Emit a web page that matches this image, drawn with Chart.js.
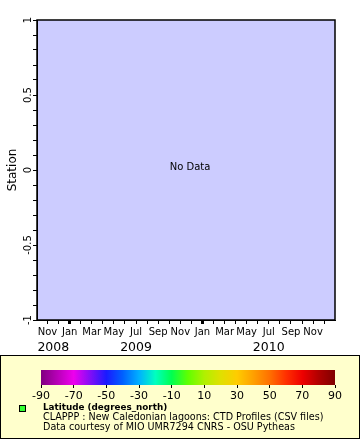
<!DOCTYPE html>
<html>
<head>
<meta charset="utf-8">
<script src="https://cdn.jsdelivr.net/npm/chart.js@4.4.1/dist/chart.umd.min.js"></script>
<style>
  body { margin: 0; background: #fff; font-family: "DejaVu Sans", sans-serif; }
  #wrap { position: relative; width: 360px; height: 440px; }
  #main { position: absolute; left: 0; top: 0; }
  #legend { position: absolute; left: 0; top: 355px; width: 358px; height: 82px; border: 1px solid #000; background: #ffffcc; }
  #cbar { position: absolute; left: 0; top: 355px; }
  .swatch { position: absolute; left: 19px; top: 405px; width: 5px; height: 5px; border: 1px solid #000; background: #33ff33; }
  .ltxt { position: absolute; left: 43px; font-size: 9.6px; line-height: 10px; color: #000; white-space: nowrap; }
</style>
</head>
<body>
<div id="wrap">
  <canvas id="main" width="360" height="354"></canvas>
  <div id="legend"></div>
  <canvas id="cbar" width="360" height="50"></canvas>
  <div class="swatch"></div>
  <div class="ltxt" style="top:402px;font-weight:bold;font-size:8.8px;">Latitude (degrees_north)</div>
  <div class="ltxt" style="top:412px;">CLAPPP : New Caledonian lagoons: CTD Profiles (CSV files)</div>
  <div class="ltxt" style="top:422px;">Data courtesy of MIO UMR7294 CNRS - OSU Pytheas</div>
</div>
<script>
// months counted from Jan 2008
const monthNames = ["Jan", "Feb", "Mar", "Apr", "May", "Jun", "Jul", "Aug", "Sep", "Oct", "Nov", "Dec"];
const years = [2008, 2009, 2010];
const timeRange = [9.05, 35.98];
const yRange = [-1, 1];
const yLabelled = [-1, -0.5, 0, 0.5, 1];
const stationPoints = []; // nothing to plot
const cbarTicks = [-90, -70, -50, -30, -10, 10, 30, 50, 70, 90];
const cbarStops = [-90, -70, -50, -40, -30, -20, -10, 0, 10, 20, 30, 40, 50, 60, 70, 80, 90];
const cbarColors = ["#800080", "#ee00ee", "#1a1aff", "#0060ff", "#00b0ff", "#00ffc0", "#00ff50", "#60ff00",
                    "#b0f000", "#e0e000", "#ffcc00", "#ffa000", "#ff7000", "#ff3000", "#ee0000", "#b00000", "#800000"];

const font = { family: "DejaVu Sans", size: 10 };

const frame = {
  id: "frame",
  beforeDraw(chart) {
    const { ctx, chartArea: a } = chart;
    ctx.save();
    ctx.fillStyle = "#ccccff";
    ctx.fillRect(a.left, a.top, a.right - a.left, a.bottom - a.top);
    ctx.restore();
  },
  afterDraw(chart) {
    const { ctx, chartArea: a } = chart;
    ctx.save();
    ctx.strokeStyle = "#000";
    ctx.lineWidth = 1.5;
    ctx.strokeRect(a.left, a.top, a.right - a.left, a.bottom - a.top);
    ctx.fillStyle = "#000";
    ctx.font = "10px 'DejaVu Sans'";
    ctx.textAlign = "center";
    ctx.textBaseline = "middle";
    const cx = chart.scales.x.getPixelForValue((timeRange[0] + timeRange[1]) / 2);
    const cy = chart.scales.y.getPixelForValue(0);
    ctx.fillText("No Data", cx + 4, cy - 3);
    ctx.restore();
  }
};

const monthTicks = [];
for (let m = Math.ceil(timeRange[0]); m <= Math.floor(timeRange[1]); m++) monthTicks.push(m);
const yearMids = years.map((y, i) => {
  const s = Math.max(timeRange[0], i * 12), e = Math.min(timeRange[1], i * 12 + 12);
  return (s + e) / 2;
});

new Chart(document.getElementById("main"), {
  type: "scatter",
  data: { datasets: [{ data: stationPoints, pointRadius: 3, backgroundColor: "#33ff33" }] },
  options: {
    responsive: false,
    animation: false,
    layout: { padding: { top: 20, right: 25, left: 0, bottom: 0 } },
    plugins: { legend: { display: false }, tooltip: { enabled: false } },
    scales: {
      x: {
        type: "linear", min: timeRange[0], max: timeRange[1],
        afterBuildTicks: (s) => { s.ticks = monthTicks.map((v) => ({ value: v })); },
        afterFit: (s) => { s.height = 18; },
        ticks: {
          autoSkip: false, maxRotation: 0, minRotation: 0, padding: 2, color: "#000", font,
          callback: (v) => { const m = ((v % 12) + 12) % 12; return m % 2 === 0 ? monthNames[m] : ""; }
        },
        grid: { drawOnChartArea: false, tickLength: 4, tickColor: "#000",
                tickWidth: (c) => (c.tick && c.tick.value % 12 === 0 ? 3 : 1) },
        border: { color: "#000" }
      },
      x2: {
        type: "linear", position: "bottom", weight: 1, min: timeRange[0], max: timeRange[1],
        afterBuildTicks: (s) => { s.ticks = yearMids.map((v) => ({ value: v })); },
        afterFit: (s) => { s.height = 16; },
        ticks: { autoSkip: false, maxRotation: 0, padding: 2, color: "#000",
                 font: { family: "DejaVu Sans", size: 12.5 },
                 callback: (v, i) => String(years[i]) },
        grid: { display: false, drawTicks: false },
        border: { display: false }
      },
      y: {
        type: "linear", min: yRange[0], max: yRange[1],
        afterFit: (s) => { s.width = 37; },
        ticks: {
          stepSize: 0.1, autoSkip: false, minRotation: 90, maxRotation: 90, crossAlign: "center",
          padding: -5, color: "#000", font,
          callback: (v) => (yLabelled.some((t) => Math.abs(t - v) < 1e-6) ? String(Math.round(v * 10) / 10) : "")
        },
        grid: { drawOnChartArea: false, tickLength: 4, tickColor: "#000" },
        border: { color: "#000" },
        title: { display: true, text: "Station", color: "#000", padding: { top: 6, bottom: 0 },
                 font: { family: "DejaVu Sans", size: 12 } }
      }
    }
  },
  plugins: [frame]
});

const gradientBar = {
  id: "gradientBar",
  beforeDraw(chart) {
    const { ctx, chartArea: a, scales } = chart;
    const x = scales.x;
    const g = ctx.createLinearGradient(a.left, 0, a.right, 0);
    cbarStops.forEach((v, i) => {
      g.addColorStop((x.getPixelForValue(v) - a.left) / (a.right - a.left), cbarColors[i]);
    });
    ctx.save();
    ctx.fillStyle = g;
    ctx.fillRect(a.left, a.top, a.right - a.left, a.bottom - a.top);
    ctx.restore();
  }
};

new Chart(document.getElementById("cbar"), {
  type: "scatter",
  data: { datasets: [{ data: [] }] },
  options: {
    responsive: false,
    animation: false,
    layout: { padding: { top: 15, right: 25, left: 41, bottom: 0 } },
    plugins: { legend: { display: false }, tooltip: { enabled: false } },
    scales: {
      x: {
        type: "linear", min: cbarTicks[0], max: cbarTicks[cbarTicks.length - 1],
        afterBuildTicks: (s) => { s.ticks = cbarTicks.map((v) => ({ value: v })); },
        afterFit: (s) => { s.height = 20; },
        ticks: { autoSkip: false, maxRotation: 0, padding: 2, color: "#000", font: { family: "DejaVu Sans", size: 11 } },
        grid: { drawOnChartArea: false, tickLength: 3, tickColor: "#000" },
        border: { display: false }
      },
      y: { display: false }
    }
  },
  plugins: [gradientBar]
});
</script>
</body>
</html>
